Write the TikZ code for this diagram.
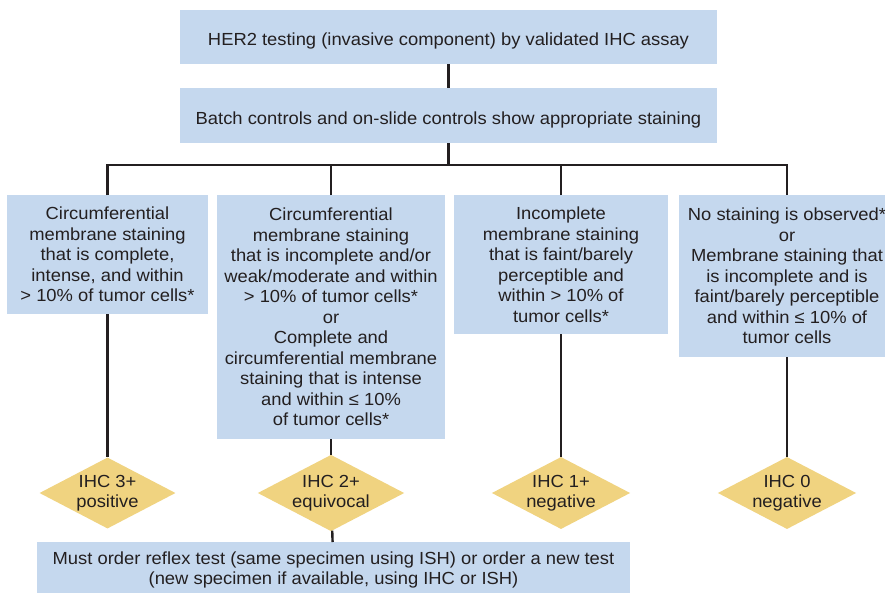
\documentclass[tikz,border=0pt]{standalone}
\usepackage{fontspec}
\setmainfont[FakeStretch=1.05]{Liberation Sans}
\usetikzlibrary{shapes.geometric}
\definecolor{boxblue}{RGB}{197,216,238}
\definecolor{diagold}{RGB}{240,211,128}
\definecolor{ink}{RGB}{35,31,32}
\begin{document}
\begin{tikzpicture}[x=1pt,y=-1pt,
  box/.style={fill=boxblue, draw=none, inner sep=0pt, align=center, text=ink,
    font=\fontsize{17.5}{20.5}\selectfont},
  toppad/.style={execute at begin node={\rule{0pt}{#1}}},
  dia/.style={diamond, aspect=1.92, fill=diagold, draw=none, inner sep=0pt, minimum width=136pt,
    minimum height=71pt, align=center, text=ink, font=\fontsize{17.5}{20}\selectfont},
  conn/.style={draw=ink, line width=2.4pt}]
\fill[white] (0,0) rectangle (885,592);
\useasboundingbox (0,0) rectangle (885,592);

\node[box, toppad=20.8pt, minimum width=537pt, minimum height=54pt] (top) at (448.5,37)
  {HER2 testing (invasive component) by validated IHC assay};
\node[box, toppad=20.8pt, minimum width=537pt, minimum height=55pt] (ctrl) at (448.5,115.5)
  {Batch controls and on-slide controls show appropriate staining};
\coordinate (j) at (448.5,165);

\node[box, toppad=16.8pt, anchor=north, minimum width=201pt, minimum height=119pt] (b1) at (107.5,195)
  {Circumferential\\membrane staining\\that is complete,\\intense, and within\\> 10\% of tumor cells*};
\node[box, toppad=14.8pt, anchor=north, minimum width=228pt, minimum height=244pt] (b2) at (331,195)
  {Circumferential\\membrane staining\\that is incomplete and/or\\weak/moderate and within\\> 10\% of tumor cells*\\or\\Complete and\\circumferential membrane\\staining that is intense\\and within ≤ 10\%\\of tumor cells*};
\node[box, toppad=16.8pt, anchor=north, minimum width=214pt, minimum height=139pt] (b3) at (561,195)
  {Incomplete\\membrane staining\\that is faint/barely\\perceptible and\\within > 10\% of\\tumor cells*};
\node[box, toppad=14.8pt, anchor=north, minimum width=216pt, minimum height=162pt] (b4) at (787,195)
  {No staining is observed*\\or\\Membrane staining that\\is incomplete and is\\faint/barely perceptible\\and within ≤ 10\% of\\tumor cells};

\node[dia] (d1) at (107.5,493) {IHC 3+\\positive};
\node[dia] (d2) at (331,493) {IHC 2+\\equivocal};
\node[dia] (d3) at (561,493) {IHC 1+\\negative};
\node[dia] (d4) at (787,493) {IHC 0\\negative};

\node[box, toppad=17.6pt, anchor=north, minimum width=593pt, minimum height=56pt] (order) at (333.5,542)
  {Must order reflex test (same specimen using ISH) or order a new test\\(new specimen if available, using IHC or ISH)};

\draw[conn] (top) -- (ctrl);
\draw[conn] (ctrl) -- (j);
\draw[conn] (b1.north) |- (j) -| (b4.north);
\draw[conn] (b2.north) -- (b2.north |- j);
\draw[conn] (b3.north) -- (b3.north |- j);
\draw[conn] (b1) -- (d1);
\draw[conn] (b2) -- (d2);
\draw[conn] (b3) -- (d3);
\draw[conn] (b4) -- (d4);
\draw[conn] (d2) -- (order);
\end{tikzpicture}
\end{document}
